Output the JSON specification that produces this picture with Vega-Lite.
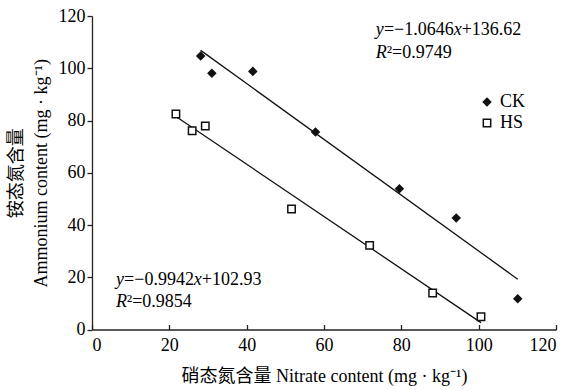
{
  "$schema": "https://vega.github.io/schema/vega-lite/v6.json",
  "width": 464,
  "height": 313.5,
  "autosize": {"type": "none"},
  "padding": {"left": 92, "top": 16, "right": 18, "bottom": 60.5},
  "background": "white",
  "config": {
    "view": {"stroke": null},
    "font": "Liberation Serif",
    "axis": {
      "grid": false,
      "domainColor": "#222",
      "domainWidth": 1.3,
      "tickColor": "#222",
      "tickWidth": 1.3,
      "labelFont": "Liberation Serif",
      "labelFontSize": 18,
      "labelColor": "#000",
      "titleFont": "'Liberation Serif', 'Noto Sans CJK SC'",
      "titleFontSize": 18,
      "titleFontWeight": "normal",
      "titleColor": "#000"
    },
    "legend": {
      "title": null,
      "orient": "none",
      "labelFont": "Liberation Serif",
      "labelFontSize": 18,
      "labelColor": "#000",
      "symbolSize": 55,
      "rowPadding": 3,
      "labelOffset": 4
    }
  },
  "datasets": {
    "points": [
      {"series": "CK", "nitrate": 28.1, "ammonium": 104.7},
      {"series": "CK", "nitrate": 31.0, "ammonium": 98.1},
      {"series": "CK", "nitrate": 41.6, "ammonium": 98.8},
      {"series": "CK", "nitrate": 57.8, "ammonium": 75.6},
      {"series": "CK", "nitrate": 79.5, "ammonium": 53.9},
      {"series": "CK", "nitrate": 94.2, "ammonium": 42.7},
      {"series": "CK", "nitrate": 110.1, "ammonium": 11.8},
      {"series": "HS", "nitrate": 21.7, "ammonium": 82.5},
      {"series": "HS", "nitrate": 25.9, "ammonium": 76.1},
      {"series": "HS", "nitrate": 29.3, "ammonium": 77.9},
      {"series": "HS", "nitrate": 51.6, "ammonium": 46.1},
      {"series": "HS", "nitrate": 71.8, "ammonium": 32.2},
      {"series": "HS", "nitrate": 88.1, "ammonium": 14.0},
      {"series": "HS", "nitrate": 100.6, "ammonium": 4.9}
    ],
    "eqItalic": [
      {"nitrate": 73.4, "ammonium": 112.7, "label": "y"},
      {"nitrate": 93.55, "ammonium": 112.7, "label": "x"},
      {"nitrate": 73.4, "ammonium": 103.9, "label": "R"},
      {"nitrate": 6.2, "ammonium": 17.0, "label": "y"},
      {"nitrate": 26.3, "ammonium": 17.0, "label": "x"},
      {"nitrate": 6.2, "ammonium": 8.5, "label": "R"}
    ],
    "eqRoman": [
      {"nitrate": 75.5, "ammonium": 112.7, "label": "=−1.0646"},
      {"nitrate": 95.6, "ammonium": 112.7, "label": "+136.62"},
      {"nitrate": 76.2, "ammonium": 103.9, "label": "²=0.9749"},
      {"nitrate": 8.3, "ammonium": 17.0, "label": "=−0.9942"},
      {"nitrate": 28.4, "ammonium": 17.0, "label": "+102.93"},
      {"nitrate": 9.0, "ammonium": 8.5, "label": "²=0.9854"}
    ]
  },
  "encoding": {
    "x": {
      "field": "nitrate",
      "type": "quantitative",
      "scale": {"domain": [0, 120], "nice": false, "zero": false},
      "axis": {
        "values": [0, 20, 40, 60, 80, 100, 120],
        "tickSize": -5,
        "labelPadding": 12,
        "title": "硝态氮含量 Nitrate content (mg · kg⁻¹)",
        "titlePadding": 13
      }
    },
    "y": {
      "field": "ammonium",
      "type": "quantitative",
      "scale": {"domain": [0, 120], "nice": false, "zero": false},
      "axis": {
        "values": [0, 20, 40, 60, 80, 100, 120],
        "tickSize": 5,
        "labelPadding": 2,
        "title": ["铵态氮含量", "Ammonium content (mg · kg⁻¹)"],
        "titleLineHeight": 25,
        "titlePadding": 8
      }
    }
  },
  "layer": [
    {
      "data": {"name": "points"},
      "transform": [
        {"regression": "ammonium", "on": "nitrate", "groupby": ["series"]}
      ],
      "mark": {"type": "line", "color": "#111", "strokeWidth": 1.3},
      "encoding": {"detail": {"field": "series"}}
    },
    {
      "data": {"name": "points"},
      "mark": {"type": "point", "filled": false, "size": 55, "stroke": "#111", "strokeWidth": 1.5, "opacity": 1},
      "encoding": {
        "shape": {
          "field": "series",
          "type": "nominal",
          "scale": {"domain": ["CK", "HS"], "range": ["diamond", "square"]},
          "legend": {
            "legendX": 386,
            "legendY": 77,
            "encode": {"symbols": {"update": {"stroke": {"value": "#111"}, "strokeWidth": {"value": 1.5}, "opacity": {"value": 1}}}}
          }
        },
        "fill": {
          "field": "series",
          "type": "nominal",
          "scale": {"domain": ["CK", "HS"], "range": ["#111", "white"]},
          "legend": {
            "legendX": 386,
            "legendY": 77,
            "encode": {"symbols": {"update": {"stroke": {"value": "#111"}, "strokeWidth": {"value": 1.5}, "opacity": {"value": 1}}}}
          }
        }
      }
    },
    {
      "data": {"name": "eqItalic"},
      "mark": {"type": "text", "align": "left", "baseline": "alphabetic", "font": "Liberation Serif", "fontSize": 18, "fontStyle": "italic", "color": "#000"},
      "encoding": {"text": {"field": "label"}}
    },
    {
      "data": {"name": "eqRoman"},
      "mark": {"type": "text", "align": "left", "baseline": "alphabetic", "font": "Liberation Serif", "fontSize": 18, "color": "#000"},
      "encoding": {"text": {"field": "label"}}
    }
  ]
}
